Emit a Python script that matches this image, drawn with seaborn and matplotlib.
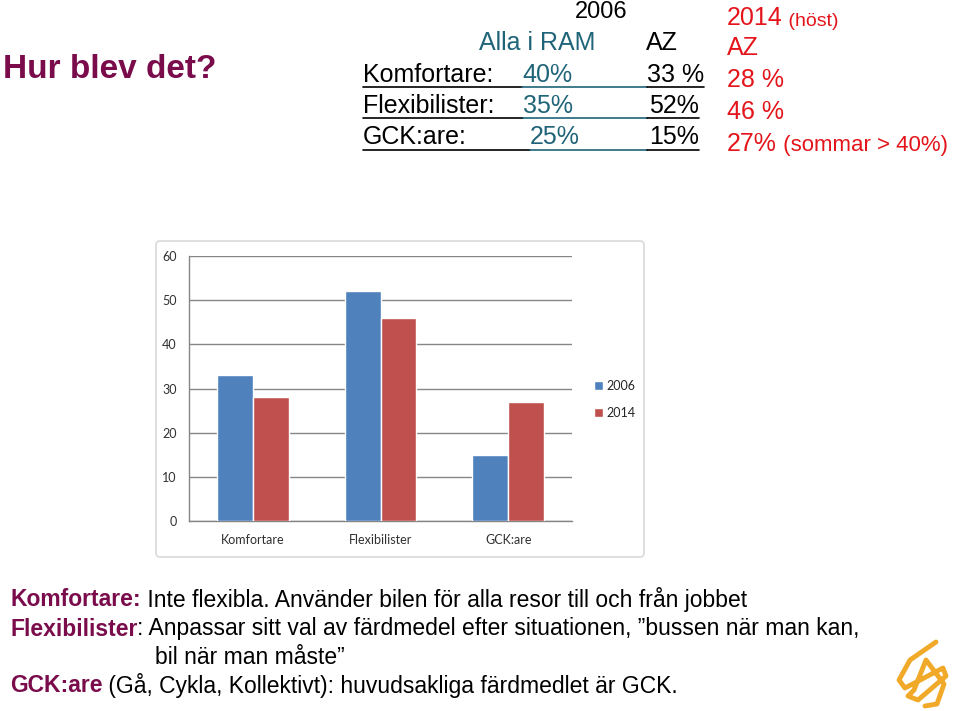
import pandas as pd
import matplotlib.pyplot as plt
import seaborn as sns
from matplotlib.patches import FancyBboxPatch

# Data
kategorier = ['Komfortare', 'Flexibilister', 'GCK:are']
andel_2006 = [33, 52, 15]
andel_2014 = [28, 46, 27]
ar = ['2006', '2014']

# Tabellen ovanfor
tab_rader = ['Komfortare:', 'Flexibilister:', 'GCK:are:']
tab_ram = ['40%', '35%', '25%']
tab_az_2006 = ['33 %', '52%', '15%']
tab_az_2014 = ['28 %', '46 %', '27%']

# Forklaringar
forklaring = [
    ('Komfortare:', ' Inte flexibla. Använder bilen för alla resor till och från jobbet'),
    ('Flexibilister', ': Anpassar sitt val av färdmedel efter situationen, \u201dbussen när man kan,'),
    ('', 'bil när man måste\u201d'),
    ('GCK:are', ' (Gå, Cykla, Kollektivt): huvudsakliga färdmedlet är GCK.'),
]

BLA = '#4F81BD'
ROD = '#C0504D'
LILA = '#7A0C4C'
TEAL = '#1F6478'
RODTEXT = '#E3151B'
GRA = '#868686'

df = pd.DataFrame({
    'kategori': kategorier * 2,
    'år': [ar[0]] * 3 + [ar[1]] * 3,
    'andel': andel_2006 + andel_2014,
})

sns.set_style('white')
plt.rcParams['font.family'] = ['Liberation Sans', 'DejaVu Sans']

W, H = 959, 711
fig = plt.figure(figsize=(W / 100, H / 100), dpi=100)

# bakgrundsaxel i pixelkoordinater
bg = fig.add_axes([0, 0, 1, 1], zorder=0)
bg.set_xlim(0, W)
bg.set_ylim(H, 0)
bg.axis('off')

# ram runt diagrammet
bg.add_patch(FancyBboxPatch((156, 241), 488, 316, boxstyle='round,pad=0,rounding_size=4',
                            facecolor='white', edgecolor='#D9D9D9', lw=1.2))

# Rubrik
bg.text(3, 70, 'Hur blev det?', color=LILA, fontsize=24, fontweight='bold', va='center')

# Tabell
bg.text(601, 12, '2006', fontsize=17, ha='center', va='center', color='black')
bg.text(595, 43, 'Alla i RAM', fontsize=18, ha='right', va='center', color=TEAL)
bg.text(678, 43, 'AZ', fontsize=18, ha='right', va='center', color='black')
rad_y = [75, 106, 137]
linje_y = [87, 118, 150]
ram_x = [522, 523, 530]
az_hoger = [704, 699, 699]
for i in range(3):
    bg.text(363, rad_y[i], tab_rader[i], fontsize=18, va='center', color='black')
    bg.text(ram_x[i], rad_y[i], tab_ram[i], fontsize=18, va='center', color=TEAL)
    bg.text(az_hoger[i], rad_y[i], tab_az_2006[i], fontsize=18, ha='right', va='center', color='black')
    bg.plot([363, ram_x[i]], [linje_y[i]] * 2, color='black', lw=1.2)
    bg.plot([ram_x[i], 647], [linje_y[i]] * 2, color=TEAL, lw=1.2)
    bg.plot([647, az_hoger[i]], [linje_y[i]] * 2, color='black', lw=1.2)

# Hogra kolumnen (2014)
t = bg.text(727, 18, '2014', fontsize=18, va='center', color=RODTEXT)
bg.annotate(' (höst)', xy=(1, 0), xycoords=t, fontsize=14, va='bottom', color=RODTEXT)
bg.text(727, 48, 'AZ', fontsize=18, va='center', color=RODTEXT)
bg.text(727, 80, tab_az_2014[0], fontsize=18, va='center', color=RODTEXT)
bg.text(727, 112, tab_az_2014[1], fontsize=18, va='center', color=RODTEXT)
t = bg.text(727, 144, tab_az_2014[2], fontsize=18, va='center', color=RODTEXT)
bg.annotate(' (sommar > 40%)', xy=(1, 0), xycoords=t, fontsize=16, va='bottom', color=RODTEXT)

# Forklaringar nederst
smal = ['Liberation Sans Narrow', 'Liberation Sans', 'DejaVu Sans']
text_y = [600, 629, 658, 686]
for (fet, vanlig), y in zip(forklaring, text_y):
    if fet:
        t = bg.text(10, y, fet, fontsize=16.5, fontweight='bold', color=LILA, va='center', family=smal)
        bg.annotate(vanlig, xy=(1, 0), xycoords=t, fontsize=16.5, color='black', va='bottom', family=smal)
    else:
        bg.text(155, y, vanlig, fontsize=16.5, color='black', va='center', family=smal)

# enkel logotyp
lx = [936, 910, 899, 905, 943, 946, 918, 908, 914, 926, 944, 937, 925]
ly = [642, 660, 680, 688, 668, 676, 700, 696, 690, 660, 684, 704, 706]
bg.plot(lx, ly, color='#F0A928', lw=3.5, solid_capstyle='round', solid_joinstyle='round')

# Diagrammet
ax = fig.add_axes([189 / W, 1 - 521 / H, 383 / W, 265 / H], zorder=2)
ax.patch.set_alpha(0)
sns.barplot(data=df, x='kategori', y='andel', hue='år', palette=[BLA, ROD],
            width=0.56, saturation=1, ax=ax, zorder=3)
ax.set_xlim(-0.5, 2.5)
ax.set_ylim(0, 60)
ax.set_yticks(range(0, 61, 10))
ax.yaxis.grid(True, color=GRA, lw=1)
ax.set_axisbelow(True)
ax.set_xlabel('')
ax.set_ylabel('')
for s in ['top', 'right']:
    ax.spines[s].set_visible(False)
for s in ['left', 'bottom']:
    ax.spines[s].set_color(GRA)
    ax.spines[s].set_linewidth(1)
ax.set_xticks([-0.5, 0.5, 1.5, 2.5], minor=True)
ax.tick_params(axis='x', which='major', length=0, pad=9)
ax.tick_params(axis='x', which='minor', length=5, color=GRA, direction='out')
ax.tick_params(axis='y', length=5, color=GRA, direction='out', pad=4)
for lab in ax.get_xticklabels() + ax.get_yticklabels():
    lab.set_family(['Lato', 'DejaVu Sans'])
    lab.set_fontsize(9)
    lab.set_color('#303030')
leg = ax.legend(loc='upper left', bbox_to_anchor=(1.028, 0.575), frameon=False,
                handlelength=0.7, handleheight=0.8, handletextpad=0.3, labelspacing=1.2,
                prop={'family': ['Lato', 'DejaVu Sans'], 'size': 9})

fig.savefig('out.png', dpi=100)
